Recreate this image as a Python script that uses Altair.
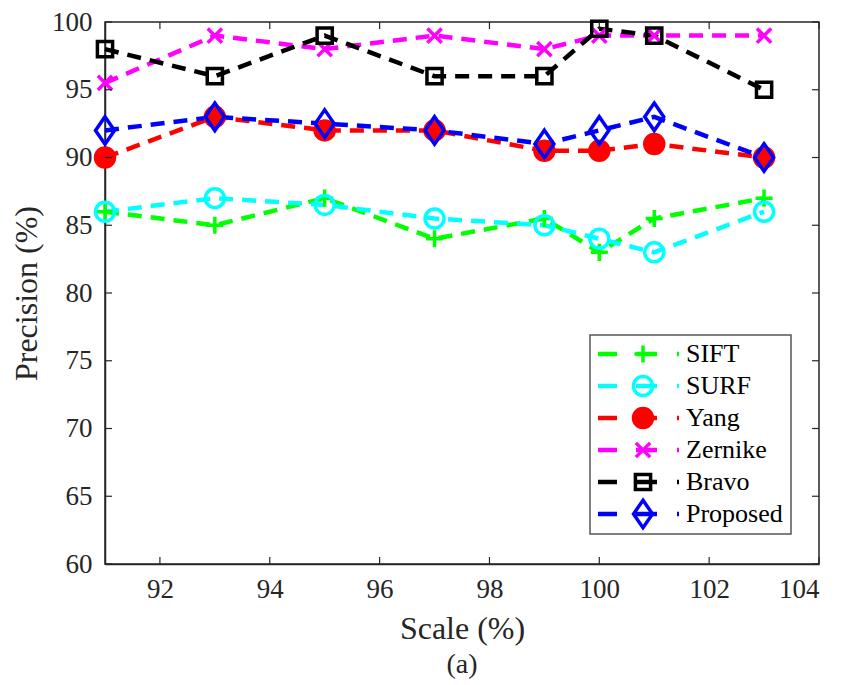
import altair as alt
import pandas as pd

scales = [91, 93, 95, 97, 99, 100, 101, 103]
methods = ["SIFT", "SURF", "Yang", "Zernike", "Bravo", "Proposed"]
sift = [86, 85, 87, 84, 85.5, 83, 85.5, 87]
surf = [86, 87, 86.5, 85.5, 85, 84, 83, 86]
yang = [90, 93, 92, 92, 90.5, 90.5, 91, 90]
zernike = [95.5, 99, 98, 99, 98, 99, 99, 99]
bravo = [98, 96, 99, 96, 96, 99.5, 99, 95]
proposed = [92, 93, 92.5, 92, 91, 92, 93, 90]
x_ticks = [92, 94, 96, 98, 100, 102, 104]
y_ticks = [60, 65, 70, 75, 80, 85, 90, 95, 100]

colors = ["#00FF00", "#00FFFF", "#FF0000", "#FF00FF", "#000000", "#0000FF"]
fills = ["#00FF00", "transparent", "#FF0000", "#FF00FF", "transparent", "transparent"]
shapes = [
    "M-0.9,0L0.9,0M0,-0.9L0,0.9",
    "circle",
    "circle",
    "M-0.75,-0.75L0.75,0.75M0.75,-0.75L-0.75,0.75",
    "M-0.8,-0.8L0.8,-0.8L0.8,0.8L-0.8,0.8Z",
    "M0,-1.45L1,0L0,1.45L-1,0Z",
]

series = [sift, surf, yang, zernike, bravo, proposed]
rows = []
for m, vals in zip(methods, series):
    for s, v in zip(scales, vals):
        rows.append({"Scale": s, "Precision": v, "Method": m})
df = pd.DataFrame(rows)
legend_df = pd.DataFrame({"Method": methods})

W, H = 714, 542
FONT = "Liberation Serif"
TK = "#262626"

xs = alt.Scale(domain=[91, 104], nice=False, zero=False)
ys = alt.Scale(domain=[60, 100], nice=False, zero=False)
color_scale = alt.Scale(domain=methods, range=colors)
shape_scale = alt.Scale(domain=methods, range=shapes)
fill_scale = alt.Scale(domain=methods, range=fills)

X = alt.X("Scale:Q", scale=xs, title="Scale (%)",
          axis=alt.Axis(values=x_ticks, titlePadding=11, labelPadding=12,
                        labelFont=FONT, titleFont=FONT))
Y = alt.Y("Precision:Q", scale=ys, title="Precision (%)",
          axis=alt.Axis(values=y_ticks, titlePadding=8, labelPadding=13,
                        labelFont=FONT, titleFont=FONT))

lines = alt.Chart(df).mark_line(strokeWidth=4.5, strokeDash=[14, 9]).encode(
    x=X, y=Y,
    color=alt.Color("Method:N", scale=color_scale, legend=None),
    order="Scale:Q",
)

points = alt.Chart(df).mark_point(size=360, strokeWidth=3.5, opacity=1).encode(
    x=X, y=Y,
    shape=alt.Shape("Method:N", scale=shape_scale, legend=None),
    stroke=alt.Stroke("Method:N", scale=color_scale, legend=None),
    fill=alt.Fill("Method:N", scale=fill_scale, legend=None),
)

xt = pd.DataFrame({"Scale": x_ticks})
yt = pd.DataFrame({"Precision": y_ticks})
tick_len = 7
xb = alt.Chart(xt).mark_rule(color=TK, strokeWidth=1.2).encode(
    x=X, y=alt.value(H), y2=alt.value(H - tick_len))
xtop = alt.Chart(xt).mark_rule(color=TK, strokeWidth=1.2).encode(
    x=X, y=alt.value(0), y2=alt.value(tick_len))
yl = alt.Chart(yt).mark_rule(color=TK, strokeWidth=1.2).encode(
    y=Y, x=alt.value(0), x2=alt.value(tick_len))
yr = alt.Chart(yt).mark_rule(color=TK, strokeWidth=1.2).encode(
    y=Y, x=alt.value(W), x2=alt.value(W - tick_len))

main = alt.layer(lines, points, xb, xtop, yl, yr)

# manual legend (line - marker - line, like the original)
LY = alt.Y("Method:N",
           scale=alt.Scale(type="point", domain=methods, range=[332, 492], padding=0),
           axis=None)
box = alt.Chart(pd.DataFrame({"k": [0]})).mark_rect(
    fill="white", stroke="#555555", strokeWidth=1.5).encode(
    x=alt.value(485), x2=alt.value(686), y=alt.value(313), y2=alt.value(512))
leg_line = alt.Chart(legend_df).mark_rule(
    strokeWidth=4.5, strokeDash=[19, 19, 21, 20, 2, 200]).encode(
    y=LY, x=alt.value(493), x2=alt.value(575),
    color=alt.Color("Method:N", scale=color_scale, legend=None))
leg_pt = alt.Chart(legend_df).mark_point(size=360, strokeWidth=3.5, opacity=1).encode(
    y=LY, x=alt.value(538),
    shape=alt.Shape("Method:N", scale=shape_scale, legend=None),
    stroke=alt.Stroke("Method:N", scale=color_scale, legend=None),
    fill=alt.Fill("Method:N", scale=fill_scale, legend=None))
leg_txt = alt.Chart(legend_df).mark_text(
    align="left", baseline="middle", font=FONT, fontSize=26, color="#000000").encode(
    y=LY, x=alt.value(581), text="Method:N")
leg = alt.layer(box, leg_line, leg_pt, leg_txt)

chart = alt.layer(main, leg).resolve_scale(y="independent").properties(
    width=W, height=H,
    padding={"left": 2, "top": 0, "right": 0, "bottom": 0},
    title=alt.TitleParams("(a)", orient="bottom", font=FONT, fontSize=28,
                          fontWeight="normal", color=TK, offset=7),
).configure_view(stroke=TK, strokeWidth=1.5).configure_axis(
    grid=False, tickSize=0, labelFontSize=27, titleFontSize=32,
    labelFont=FONT, titleFont=FONT, titleFontWeight="normal",
    labelColor=TK, titleColor=TK, domainColor=TK, domainWidth=1.5,
)

chart.save("out.html", embed_options={"renderer": "svg", "actions": False})
